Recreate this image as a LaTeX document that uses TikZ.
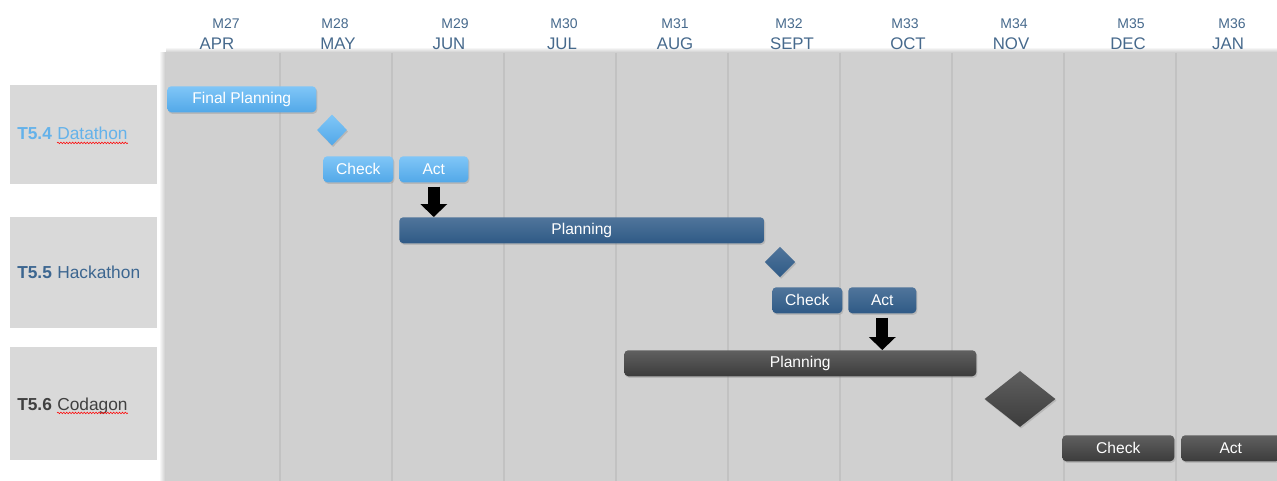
\documentclass[tikz,border=0pt]{standalone}
\usepackage{fontspec}
\setmainfont{Liberation Sans}
\usetikzlibrary{positioning, shapes, shapes.geometric, arrows.meta, shadows, decorations.pathmorphing}
\definecolor{Grid-bg}{RGB}{208,208,208}
\definecolor{Grid-line}{RGB}{194,194,194}
\definecolor{Label-bg}{RGB}{217,217,217}
\definecolor{Head}{RGB}{70,105,140}
\definecolor{Light-top}{RGB}{128,198,247}
\definecolor{Light-bot}{RGB}{82,168,232}
\definecolor{Mid-top}{RGB}{80,117,155}
\definecolor{Mid-bot}{RGB}{47,90,134}
\definecolor{Dark-top}{RGB}{96,96,96}
\definecolor{Dark-bot}{RGB}{60,60,60}
\definecolor{T54}{RGB}{100,178,234}
\definecolor{T55}{RGB}{60,102,144}
\definecolor{T56}{RGB}{64,64,64}

\begin{document}
\begin{tikzpicture}[x=0.75pt, y=-0.75pt]
      \tikzset{ bar/.style  ={rounded corners=3pt, inner sep=0pt, anchor=north west, minimum height=19.5pt, text=white, font=\fontsize{11.7}{13}\selectfont, drop shadow={shadow xshift=0.8pt, shadow yshift=-1.2pt, opacity=0.3}} }
      \tikzset{ lbar/.style ={bar, top color=Light-top, bottom color=Light-bot} }
      \tikzset{ mbar/.style ={bar, top color=Mid-top,   bottom color=Mid-bot} }
      \tikzset{ dbar/.style ={bar, top color=Dark-top,  bottom color=Dark-bot} }
      \tikzset{ ms/.style   ={diamond, inner sep=0pt, drop shadow={shadow xshift=0.8pt, shadow yshift=-1.2pt, opacity=0.3}} }
      \tikzset{ lms/.style  ={ms, top color=Light-top, bottom color=Light-bot} }
      \tikzset{ mms/.style  ={ms, top color=Mid-top,   bottom color=Mid-bot} }
      \tikzset{ dms/.style  ={ms, top color=Dark-top,  bottom color=Dark-bot} }
      \tikzset{ lbl/.style  ={fill=Label-bg, inner sep=0pt, anchor=north west, minimum width=110.25pt} }
      \tikzset{ tid/.style  ={inner sep=0pt, anchor=base west, font=\fontsize{13}{15}\selectfont\bfseries} }
      \tikzset{ tword/.style={inner sep=0pt, font=\fontsize{13}{15}\selectfont} }
      \tikzset{ mnum/.style ={text=Head, inner sep=0pt, font=\fontsize{10.5}{12}\selectfont} }
      \tikzset{ mname/.style={text=Head, inner sep=0pt, font=\fontsize{12.6}{14}\selectfont} }
      \tikzset{ squig/.style={draw=red, line width=0.4pt, decorate, decoration={snake, amplitude=0.6pt, segment length=2.2pt}} }
      \tikzset{ go/.style   ={line width=9pt, -{Triangle[width=20.25pt, length=9.75pt, line width=0pt]}, shorten <=3pt} }

      \useasboundingbox (0,0) rectangle (1277,481);
      \shade[left color=white, right color=black!22] (159,53) rectangle (166,481);
      \shade[top color=white, bottom color=black!22] (166,47) rectangle (1277,53);
      \fill[Grid-bg] (166,53) rectangle (1277,481);
      \foreach \k in {1,...,9}
        \draw[Grid-line, line width=1pt] (168+112*\k,53) -- (168+112*\k,481);

      \foreach \n/\mx/\lx/\m in {27/226/217/APR, 28/335/338/MAY, 29/455/449/JUN, 30/564/562/JUL, 31/675/675/AUG,
                                 32/789/792/SEPT, 33/905/908/OCT, 34/1014/1011/NOV, 35/1131/1128/DEC, 36/1232/1228/JAN} {
        \node[mnum]  (m\n)  at (\mx,23.5) {M\n};
        \node[mname] (mo\n) at (\lx,44)   {\m};
      }

      \node[lbl, minimum height=74.25pt] (box54) at (10,85)  {};
      \node[lbl, minimum height=83.25pt] (box55) at (10,217) {};
      \node[lbl, minimum height=84.75pt] (box56) at (10,347) {};

      \node[tid, text=T54] (id54) at (17,140) {T5.4};
      \node[tword, text=T54, right=3.6pt of id54.base east, anchor=base west] (w54) {Datathon};
      \node[tid, text=T55] (id55) at (17,278) {T5.5};
      \node[tword, text=T55, right=3.6pt of id55.base east, anchor=base west] (w55) {Hackathon};
      \node[tid, text=T56] (id56) at (17,410) {T5.6};
      \node[tword, text=T56, right=3.6pt of id56.base east, anchor=base west] (w56) {Codagon};
      \draw[squig] ([yshift=-2.2pt]w54.base west) -- ([yshift=-2.2pt]w54.base east);
      \draw[squig] ([yshift=-2.2pt]w56.base west) -- ([yshift=-2.2pt]w56.base east);

      \node[lbar, minimum width=111.75pt]             (fp) at (167,86)  {Final Planning};
      \node[lms, minimum width=22.5pt, minimum height=23.25pt] (d1) at (332,130) {};
      \node[lbar, minimum width=52.5pt]               (c1) at (323,156) {Check};
      \node[lbar, minimum width=51.75pt]              (a1) at (399,156) {Act};
      \node[mbar, minimum width=273.75pt]             (p2) at (399,217) {Planning};
      \node[mms, minimum width=23pt, minimum height=23pt]      (d2) at (780,262) {};
      \node[mbar, minimum width=52.5pt]               (c2) at (772,287) {Check};
      \node[mbar, minimum width=51pt]                 (a2) at (848,287) {Act};
      \node[dbar, minimum width=264pt]                (p3) at (624,350) {Planning};
      \node[dms, minimum width=53.25pt, minimum height=42pt]   (d3) at (1020,399) {};
      \node[dbar, minimum width=84pt]                 (c3) at (1062,435) {Check};
      \node[dbar, minimum width=74.25pt]              (a3) at (1181,435) {Act};

      \draw[go] (a1.south) -- (a1.south |- p2.north);
      \draw[go] (a2.south) -- (a2.south |- p3.north);
    \end{tikzpicture}
\end{document}
